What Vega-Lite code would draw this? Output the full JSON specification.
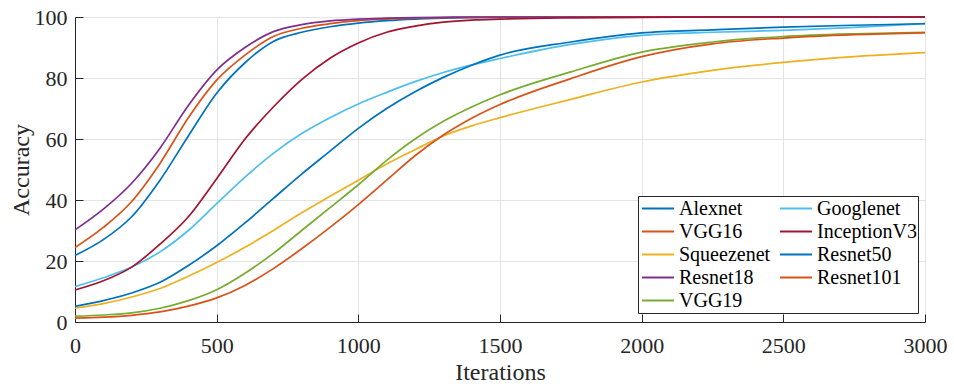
{
  "$schema": "https://vega.github.io/schema/vega-lite/v6.json",
  "autosize": {"type": "none"},
  "padding": {"left": 75, "top": 17, "right": 29, "bottom": 68},
  "width": 850,
  "height": 305,
  "background": "white",
  "config": {
    "view": {"stroke": null},
    "font": "Liberation Serif",
    "axis": {
      "labelFont": "Liberation Serif",
      "labelFontSize": 22,
      "labelColor": "#262626",
      "titleFont": "Liberation Serif",
      "titleFontSize": 24,
      "titleFontWeight": "normal",
      "titleColor": "#262626",
      "domainColor": "#262626",
      "domainWidth": 1,
      "tickColor": "#262626",
      "tickSize": -8,
      "tickWidth": 1,
      "gridColor": "#e3e3e3",
      "gridWidth": 1
    }
  },
  "data": {
    "values": [
      {"x": 0, "Resnet18": 30.2, "VGG16": 24.4, "Alexnet": 21.8, "InceptionV3": 10.5, "Googlenet": 11.6, "Resnet50": 5.1, "Squeezenet": 4.5, "VGG19": 1.9, "Resnet101": 1.3},
      {"x": 100, "Resnet18": 37, "VGG16": 31, "Alexnet": 27, "InceptionV3": 13.5, "Googlenet": 14.5, "Resnet50": 7, "Squeezenet": 6, "VGG19": 2.3, "Resnet101": 1.6},
      {"x": 200, "Resnet18": 45.5, "VGG16": 39.5, "Alexnet": 34.5, "InceptionV3": 18, "Googlenet": 18, "Resnet50": 9.5, "Squeezenet": 8.2, "VGG19": 3, "Resnet101": 2.2},
      {"x": 300, "Resnet18": 57, "VGG16": 52, "Alexnet": 46.5, "InceptionV3": 25.5, "Googlenet": 23, "Resnet50": 13, "Squeezenet": 11, "VGG19": 4.5, "Resnet101": 3.3},
      {"x": 400, "Resnet18": 71, "VGG16": 67, "Alexnet": 61, "InceptionV3": 34.5, "Googlenet": 30, "Resnet50": 18.5, "Squeezenet": 15, "VGG19": 7, "Resnet101": 5.2},
      {"x": 500, "Resnet18": 82.6, "VGG16": 79.3, "Alexnet": 75, "InceptionV3": 47, "Googlenet": 38.8, "Resnet50": 25, "Squeezenet": 19.5, "VGG19": 10.6, "Resnet101": 7.9},
      {"x": 600, "Resnet18": 90, "VGG16": 87.5, "Alexnet": 85, "InceptionV3": 60, "Googlenet": 47.5, "Resnet50": 32.5, "Squeezenet": 24.5, "VGG19": 16, "Resnet101": 12},
      {"x": 700, "Resnet18": 95.2, "VGG16": 93.6, "Alexnet": 92, "InceptionV3": 70.5, "Googlenet": 55.3, "Resnet50": 40.5, "Squeezenet": 30, "VGG19": 22.5, "Resnet101": 17.5},
      {"x": 800, "Resnet18": 97.5, "VGG16": 96.3, "Alexnet": 95, "InceptionV3": 79.5, "Googlenet": 61.8, "Resnet50": 48.5, "Squeezenet": 35.8, "VGG19": 30, "Resnet101": 24},
      {"x": 900, "Resnet18": 98.7, "VGG16": 97.8, "Alexnet": 96.8, "InceptionV3": 86.5, "Googlenet": 67, "Resnet50": 56, "Squeezenet": 41.2, "VGG19": 37.5, "Resnet101": 31},
      {"x": 1000, "Resnet18": 99.3, "VGG16": 98.8, "Alexnet": 98, "InceptionV3": 91.5, "Googlenet": 71.5, "Resnet50": 63.5, "Squeezenet": 46.5, "VGG19": 45, "Resnet101": 38.5},
      {"x": 1100, "Resnet18": 99.6, "VGG16": 99.3, "Alexnet": 98.8, "InceptionV3": 95, "Googlenet": 75.3, "Resnet50": 70, "Squeezenet": 51.8, "VGG19": 53, "Resnet101": 46.5},
      {"x": 1200, "Resnet18": 99.8, "VGG16": 99.6, "Alexnet": 99.3, "InceptionV3": 97, "Googlenet": 78.8, "Resnet50": 75.5, "Squeezenet": 56.5, "VGG19": 60, "Resnet101": 54.5},
      {"x": 1300, "Resnet18": 99.9, "VGG16": 99.8, "Alexnet": 99.6, "InceptionV3": 98.3, "Googlenet": 81.8, "Resnet50": 80.2, "Squeezenet": 61, "VGG19": 65.8, "Resnet101": 61.3},
      {"x": 1400, "Resnet18": 100, "VGG16": 99.9, "Alexnet": 99.8, "InceptionV3": 99, "Googlenet": 84.3, "Resnet50": 84.2, "Squeezenet": 64.3, "VGG19": 70.5, "Resnet101": 66.8},
      {"x": 1500, "Resnet18": 100, "VGG16": 100, "Alexnet": 99.9, "InceptionV3": 99.3, "Googlenet": 86.4, "Resnet50": 87.5, "Squeezenet": 67, "VGG19": 74.5, "Resnet101": 71.3},
      {"x": 1750, "Resnet18": 100, "VGG16": 100, "Alexnet": 100, "InceptionV3": 99.7, "Googlenet": 91, "Resnet50": 91.8, "Squeezenet": 73, "VGG19": 82, "Resnet101": 79.8},
      {"x": 2000, "Resnet18": 100, "VGG16": 100, "Alexnet": 100, "InceptionV3": 99.9, "Googlenet": 94, "Resnet50": 94.8, "Squeezenet": 78.7, "VGG19": 88.5, "Resnet101": 87},
      {"x": 2250, "Resnet18": 100, "VGG16": 100, "Alexnet": 100, "InceptionV3": 100, "Googlenet": 95, "Resnet50": 95.8, "Squeezenet": 82.5, "VGG19": 91.8, "Resnet101": 91.2},
      {"x": 2500, "Resnet18": 100, "VGG16": 100, "Alexnet": 100, "InceptionV3": 100, "Googlenet": 95.6, "Resnet50": 96.7, "Squeezenet": 85.1, "VGG19": 93.6, "Resnet101": 93.1},
      {"x": 2750, "Resnet18": 100, "VGG16": 100, "Alexnet": 100, "InceptionV3": 100, "Googlenet": 96.6, "Resnet50": 97.3, "Squeezenet": 87, "VGG19": 94.5, "Resnet101": 94.2},
      {"x": 3000, "Resnet18": 100, "VGG16": 100, "Alexnet": 100, "InceptionV3": 100, "Googlenet": 97.8, "Resnet50": 97.8, "Squeezenet": 88.3, "VGG19": 95, "Resnet101": 94.8}
    ]
  },
  "transform": [
    {"fold": ["Alexnet", "VGG16", "Squeezenet", "Resnet18", "VGG19", "Googlenet", "InceptionV3", "Resnet50", "Resnet101"], "as": ["model", "acc"]}
  ],
  "mark": {"type": "line", "interpolate": "monotone", "strokeWidth": 1.7},
  "encoding": {
    "x": {
      "field": "x", "type": "quantitative",
      "scale": {"domain": [0, 3000], "nice": false},
      "axis": {"values": [0, 500, 1000, 1500, 2000, 2500, 3000], "format": "d", "title": "Iterations", "labelPadding": 21, "labelFlush": false, "titleX": 425, "titleY": 50, "titleBaseline": "middle", "titleAnchor": null}
    },
    "y": {
      "field": "acc", "type": "quantitative",
      "scale": {"domain": [0, 100], "nice": false},
      "axis": {"values": [0, 20, 40, 60, 80, 100], "title": "Accuracy", "labelPadding": 16, "titleX": -54, "titleY": 152.5, "titleAngle": -90, "titleBaseline": "middle", "titleAlign": "center"}
    },
    "color": {
      "field": "model", "type": "nominal",
      "scale": {
        "domain": ["Alexnet", "VGG16", "Squeezenet", "Resnet18", "VGG19", "Googlenet", "InceptionV3", "Resnet50", "Resnet101"],
        "range": ["#0072BD", "#D95319", "#EDB120", "#7E2F8E", "#77AC30", "#4DBEEE", "#A2142F", "#0072BD", "#D95319"]
      },
      "legend": {
        "orient": "none", "legendX": 563, "legendY": 179, "columns": 2, "title": null,
        "symbolType": "stroke", "symbolSize": 1024, "symbolStrokeWidth": 2, "symbolOffset": 2,
        "clipHeight": 23,
        "labelFont": "Liberation Serif", "labelFontSize": 20, "labelColor": "#000000", "labelLimit": 0,
        "labelOffset": 4, "rowPadding": 0, "columnPadding": 6, "padding": 1,
        "strokeColor": "#262626", "fillColor": "white"
      }
    }
  }
}
